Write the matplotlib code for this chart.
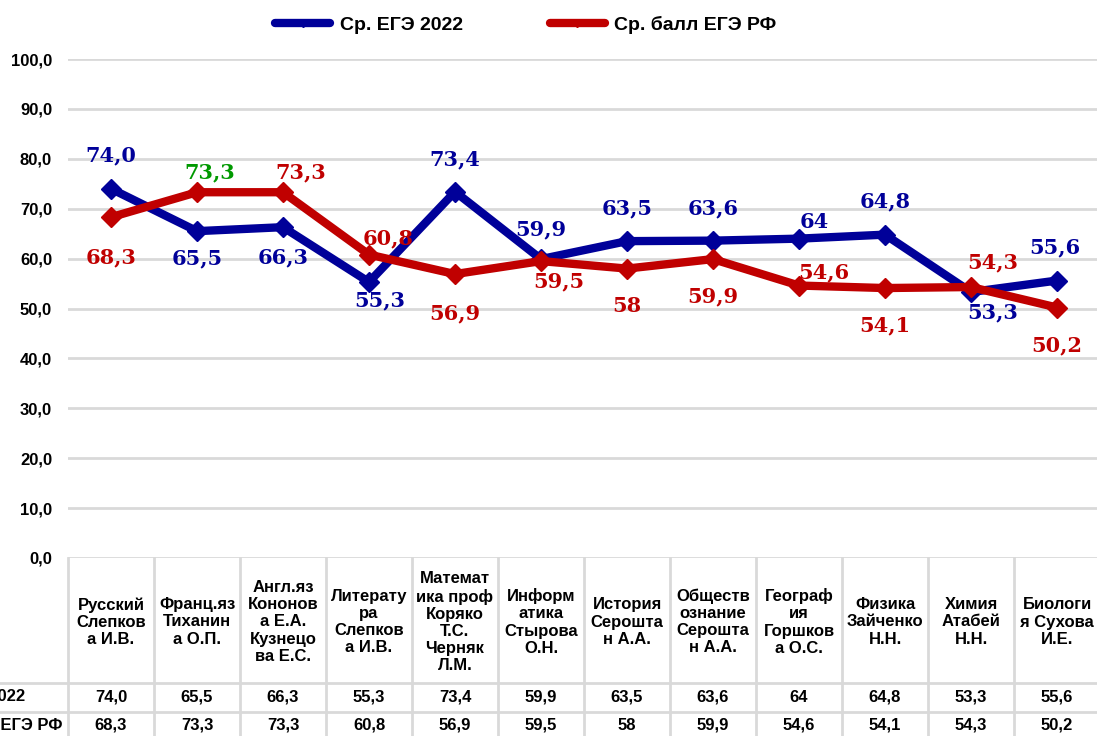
import matplotlib.pyplot as plt
from matplotlib.lines import Line2D
from matplotlib import transforms

# subjects / teachers (column headers of the data table)
subjects = [
    "Русский\nСлепков\nа И.В.",
    "Франц.яз\nТиханин\nа О.П.",
    "Англ.яз\nКононов\nа Е.А.\nКузнецо\nва Е.С.",
    "Литерату\nра\nСлепков\nа И.В.",
    "Математ\nика проф\nКоряко\nТ.С.\nЧерняк\nЛ.М.",
    "Информ\nатика\nСтырова\nО.Н.",
    "История\nСерошта\nн А.А.",
    "Обществ\nознание\nСерошта\nн А.А.",
    "Географ\nия\nГоршков\nа О.С.",
    "Физика\nЗайченко\nН.Н.",
    "Химия\nАтабей\nН.Н.",
    "Биологи\nя Сухова\nИ.Е.",
]
ege_2022 = [74.0, 65.5, 66.3, 55.3, 73.4, 59.9, 63.5, 63.6, 64.0, 64.8, 53.3, 55.6]
ege_rf = [68.3, 73.3, 73.3, 60.8, 56.9, 59.5, 58.0, 59.9, 54.6, 54.1, 54.3, 50.2]
text_2022 = ["74,0", "65,5", "66,3", "55,3", "73,4", "59,9", "63,5", "63,6", "64", "64,8", "53,3", "55,6"]
text_rf = ["68,3", "73,3", "73,3", "60,8", "56,9", "59,5", "58", "59,9", "54,6", "54,1", "54,3", "50,2"]
series_names = ["Ср. ЕГЭ 2022", "Ср. балл ЕГЭ РФ"]
yticks = [0, 10, 20, 30, 40, 50, 60, 70, 80, 90, 100]
ytick_text = ["0,0", "10,0", "20,0", "30,0", "40,0", "50,0", "60,0", "70,0", "80,0", "90,0", "100,0"]

BLUE = "#000099"
RED = "#C00000"
GREEN = "#009900"
GRID = "#d9d9d9"
W, H = 1097, 736

# label offsets in pixels (dx right, dy down)
off_2022 = [(0, -33), (0, 27), (0, 30), (11, 18), (0, -32), (0, -30),
            (0, -33), (0, -32), (15, -17), (0, -33), (22, 20), (-2, -33)]
off_rf = [(0, 40), (13, -20), (18, -20), (19, -16), (0, 39), (18, 20),
          (0, 37), (0, 37), (25, -13), (0, 37), (22, -25), (0, 38)]

plt.rcParams['font.family'] = ['Liberation Sans', 'DejaVu Sans']

fig = plt.figure(figsize=(W / 100, H / 100), dpi=100)
ax = fig.add_axes([68 / W, 1 - 558 / H, (1100 - 68) / W, (558 - 59) / H])
ax.set_xlim(-0.5, len(subjects) - 0.5)
ax.set_ylim(0, 100)
for s in ax.spines.values():
    s.set_visible(False)
ax.set_xticks([])
ax.set_yticks(yticks)
ax.set_yticklabels(ytick_text, fontsize=12, fontweight='bold')
ax.tick_params(axis='y', length=0, pad=11.5)
ax.grid(axis='y', color=GRID, linewidth=2)
ax.set_axisbelow(True)

x = list(range(len(subjects)))
ax.plot(x, ege_2022, color=BLUE, linewidth=6, marker='D', markersize=10, zorder=3)
ax.plot(x, ege_rf, color=RED, linewidth=6, marker='D', markersize=10, zorder=4)

lbl = dict(textcoords='offset points', ha='center', va='center',
           fontsize=15, family='DejaVu Serif', fontweight='bold', zorder=5)
for i in x:
    dx, dy = off_2022[i]
    ax.annotate(text_2022[i], (i, ege_2022[i]), xytext=(dx * 0.72, -dy * 0.72),
                color=BLUE, **lbl)
    dx, dy = off_rf[i]
    col = GREEN if i == 1 else RED
    ax.annotate(text_rf[i], (i, ege_rf[i]), xytext=(dx * 0.72, -dy * 0.72),
                color=col, **lbl)

# data table below the axis
tr = transforms.blended_transform_factory(ax.transData, fig.transFigure)
fy = lambda py: 1 - py / H
for b in range(len(subjects) + 1):
    ax.add_line(Line2D([b - 0.5, b - 0.5], [fy(558), fy(740)], transform=tr,
                       color=GRID, linewidth=2, clip_on=False))
for py in (683, 712):
    fig.add_artist(Line2D([0, 1], [fy(py), fy(py)], color=GRID, linewidth=2))
for i in x:
    ax.text(i, fy(622), subjects[i], transform=tr, ha='center', va='center',
            fontsize=12, fontweight='bold', linespacing=1.17)
    ax.text(i, fy(697), text_2022[i], transform=tr, ha='center', va='center',
            fontsize=12, fontweight='bold')
    ax.text(i, fy(725), text_rf[i], transform=tr, ha='center', va='center',
            fontsize=12, fontweight='bold')
fig.text(25 / W, fy(697), series_names[0], ha='right', va='center',
         fontsize=12, fontweight='bold')
fig.text(62 / W, fy(725), series_names[1], ha='right', va='center',
         fontsize=12, fontweight='bold')

handles = [Line2D([], [], color=BLUE, linewidth=6, marker='D', markersize=4, solid_capstyle='round'),
           Line2D([], [], color=RED, linewidth=6, marker='D', markersize=4, solid_capstyle='round')]
fig.legend(handles, series_names, loc='center', bbox_to_anchor=(526 / W, fy(25)),
           ncol=2, frameon=False, handlelength=2.8, columnspacing=4.5, handletextpad=0.5,
           prop={'size': 14, 'weight': 'bold'})

fig.savefig("out.png", dpi=100)
